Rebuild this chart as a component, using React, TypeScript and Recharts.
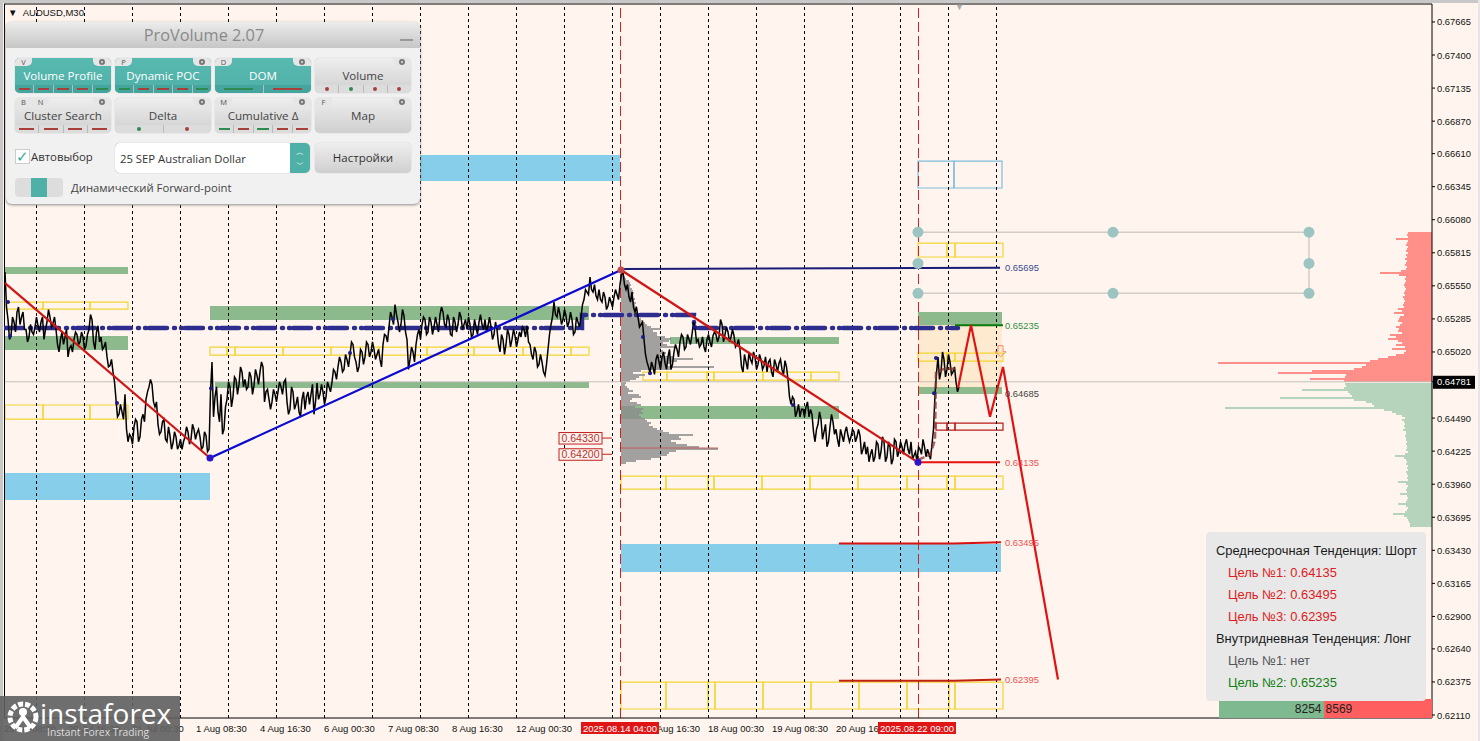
import React from 'react'
import { ComposedChart, Line, Scatter, XAxis, YAxis, ReferenceArea, ReferenceLine } from 'recharts'

// closes every 3 bars, in pips (price * 10000), one list per 48 bars
const day00 = [6566, 6528, 6515, 6526, 6534, 6524, 6534, 6520, 6514, 6518, 6522, 6523, 6526, 6512, 6526, 6530]
const day01 = [6525, 6520, 6502, 6518, 6514, 6498, 6507, 6512, 6516, 6510, 6514, 6507, 6520, 6528, 6504, 6523]
const day02 = [6514, 6506, 6498, 6491, 6486, 6464, 6452, 6454, 6468, 6430, 6434, 6442, 6446, 6434, 6452, 6464]
const day03 = [6474, 6476, 6458, 6444, 6438, 6448, 6430, 6435, 6429, 6434, 6427, 6424, 6434, 6438, 6432, 6440]
const day04 = [6437, 6434, 6426, 6435, 6424, 6494, 6466, 6454, 6468, 6440, 6464, 6474, 6466, 6480, 6476, 6486]
const day05 = [6480, 6474, 6482, 6475, 6483, 6486, 6490, 6470, 6464, 6462, 6468, 6470, 6474, 6478, 6462, 6456]
const day06 = [6470, 6460, 6454, 6464, 6456, 6470, 6468, 6452, 6477, 6468, 6470, 6466, 6474, 6478, 6486, 6490]
const day07 = [6494, 6488, 6496, 6500, 6508, 6494, 6490, 6502, 6498, 6508, 6502, 6504, 6500, 6496, 6508, 6515]
const day08 = [6522, 6530, 6540, 6526, 6524, 6531, 6512, 6496, 6502, 6508, 6520, 6524, 6528, 6518, 6526, 6522]
const day09 = [6524, 6532, 6534, 6522, 6528, 6515, 6526, 6524, 6530, 6524, 6520, 6524, 6516, 6522, 6526, 6524]
const day10 = [6528, 6523, 6522, 6516, 6520, 6502, 6512, 6508, 6516, 6512, 6515, 6512, 6514, 6520, 6523, 6508]
const day11 = [6496, 6502, 6492, 6494, 6483, 6504, 6524, 6542, 6530, 6532, 6528, 6531, 6526, 6528, 6518, 6526]
const day12 = [6530, 6544, 6550, 6562, 6550, 6547, 6552, 6542, 6546, 6539, 6542, 6546, 6548, 6556, 6566, 6552]
const day13 = [6546, 6550, 6534, 6530, 6524, 6512, 6494, 6485, 6490, 6496, 6494, 6498, 6493, 6498, 6488, 6502]
const day14 = [6504, 6510, 6514, 6506, 6512, 6516, 6522, 6512, 6508, 6506, 6512, 6510, 6515, 6516, 6514, 6524]
const day15 = [6516, 6518, 6514, 6515, 6508, 6504, 6486, 6494, 6502, 6493, 6498, 6492, 6496, 6491, 6486, 6496]
const day16 = [6482, 6492, 6493, 6488, 6495, 6480, 6460, 6464, 6454, 6450, 6456, 6458, 6450, 6452, 6430, 6444]
const day17 = [6448, 6438, 6426, 6442, 6446, 6440, 6426, 6435, 6438, 6435, 6434, 6438, 6434, 6435, 6424, 6420]
const day18 = [6414, 6424, 6418, 6428, 6422, 6430, 6418, 6426, 6416, 6430, 6422, 6426, 6428, 6424, 6430, 6419]
const day19 = [6414, 6424, 6432, 6418, 6420, 6428, 6468, 6498, 6486, 6496, 6488, 6494, 6486, 6478, 6474]

// in-between swings, read half way between the closes above
const mid00 = [6538, 6512, 6530, 6518, 6538, 6530, 6520, 6510, 6524, 6516, 6530, 6518, 6530, 6520, 6536, 6522]
const mid01 = [6530, 6508, 6512, 6508, 6520, 6505, 6502, 6518, 6508, 6518, 6504, 6516, 6532, 6510, 6518, 6510]
const mid02 = [6504, 6510, 6490, 6496, 6478, 6450, 6460, 6448, 6440, 6436, 6428, 6448, 6430, 6448, 6446, 6470]
const mid03 = [6480, 6462, 6462, 6436, 6446, 6432, 6442, 6424, 6438, 6424, 6432, 6430, 6442, 6428, 6444, 6432]
const mid04 = [6440, 6424, 6438, 6422, 6470, 6450, 6474, 6446, 6436, 6458, 6478, 6458, 6482, 6468, 6490, 6474]
const mid05 = [6472, 6486, 6468, 6488, 6476, 6494, 6462, 6472, 6456, 6472, 6462, 6478, 6468, 6480, 6452, 6474]
const mid06 = [6456, 6466, 6450, 6470, 6466, 6460, 6476, 6462, 6464, 6476, 6460, 6478, 6470, 6488, 6480, 6498]
const mid07 = [6486, 6500, 6490, 6510, 6498, 6486, 6504, 6492, 6510, 6498, 6510, 6496, 6504, 6490, 6516, 6510]
const mid08 = [6534, 6524, 6532, 6518, 6536, 6518, 6488, 6506, 6494, 6516, 6512, 6530, 6516, 6530, 6516, 6530]
const mid09 = [6518, 6538, 6524, 6532, 6516, 6530, 6518, 6534, 6520, 6528, 6530, 6514, 6528, 6516, 6532, 6520]
const mid10 = [6518, 6530, 6512, 6526, 6508, 6516, 6500, 6520, 6506, 6520, 6506, 6518, 6522, 6514, 6510, 6500]
const mid11 = [6506, 6490, 6500, 6486, 6492, 6516, 6530, 6532, 6538, 6524, 6536, 6522, 6534, 6516, 6530, 6522]
const mid12 = [6540, 6552, 6548, 6552, 6556, 6544, 6544, 6550, 6536, 6546, 6538, 6552, 6544, 6564, 6556, 6556]
const mid13 = [6542, 6538, 6538, 6522, 6526, 6500, 6490, 6494, 6484, 6500, 6488, 6502, 6488, 6504, 6492, 6508]
const mid14 = [6498, 6516, 6504, 6516, 6508, 6526, 6510, 6506, 6514, 6502, 6516, 6506, 6518, 6510, 6528, 6510]
const mid15 = [6522, 6510, 6520, 6506, 6512, 6490, 6500, 6488, 6496, 6502, 6488, 6500, 6488, 6498, 6494, 6486]
const mid16 = [6496, 6486, 6496, 6484, 6490, 6466, 6466, 6450, 6460, 6456, 6450, 6462, 6456, 6438, 6440, 6454]
const mid17 = [6432, 6444, 6430, 6452, 6436, 6432, 6440, 6430, 6442, 6430, 6440, 6430, 6440, 6420, 6430, 6426]
const mid18 = [6420, 6414, 6430, 6416, 6434, 6414, 6430, 6412, 6432, 6418, 6430, 6420, 6432, 6420, 6416, 6422]
const mid19 = [6426, 6420, 6426, 6424, 6416, 6440, 6485, 6480, 6502, 6482, 6500, 6484, 6490, 6470]

const closes = [day00, day01, day02, day03, day04, day05, day06, day07, day08, day09, day10, day11, day12, day13, day14, day15, day16, day17, day18, day19].flat()
const mids = [mid00, mid01, mid02, mid03, mid04, mid05, mid06, mid07, mid08, mid09, mid10, mid11, mid12, mid13, mid14, mid15, mid16, mid17, mid18, mid19].flat()
const priceData = closes.flatMap((p, i) => {
  const at = 1 + i * 3
  return i < mids.length ? [{ x: at, y: p / 10000 }, { x: at + 1.5, y: mids[i] / 10000 }] : [{ x: at, y: p / 10000 }]
})

const yTicks = [0.67665, 0.674, 0.67135, 0.6687, 0.6661, 0.66345, 0.6608, 0.65815, 0.6555, 0.65285, 0.6502, 0.6449, 0.64225, 0.6396, 0.63695, 0.6343, 0.63165, 0.629, 0.6264, 0.62375, 0.6211, 0.64781]
const lastPrice = 0.64781

const timeLabels = [
  [0, '28 Jul 08:30'], [64, '29 Jul 16:30'], [128, '31 Jul 00:30'], [192, '1 Aug 08:30'], [256, '4 Aug 16:30'],
  [320, '6 Aug 00:30'], [384, '7 Aug 08:30'], [448, '8 Aug 16:30'], [512, '12 Aug 00:30'],
  [640, '14 Aug 16:30'], [704, '18 Aug 00:30'], [768, '19 Aug 08:30'], [832, '20 Aug 16:30'],
] as [number, string][]
const timeFlags = [[617, '2025.08.14 04:00'], [914, '2025.08.22 09:00']] as [number, string][]
const dayBreaks = [32.5, 80.5, 128.5, 176.5, 224.5, 272.5, 320.5, 368.5, 416.5, 464.5, 512.5, 560.5, 608.5, 656.5, 704.5, 752.5, 800.5, 848.5, 896.5, 944.5, 992.5]

// [bar from, bar to, price low, price high]
const greenZones = [
  [1, 124, 0.65645, 0.65701], [1, 124, 0.65035, 0.65148], [206, 585, 0.65276, 0.65388], [211, 585, 0.64731, 0.64779],
  [666, 835, 0.65084, 0.6514], [617, 835, 0.64482, 0.64586], [914, 998, 0.65236, 0.6534], [914, 998, 0.64683, 0.64739],
]
const blueZones = [[416, 616, 0.6639, 0.66598], [1, 206, 0.63833, 0.64049], [617, 997, 0.63256, 0.6348]]
const forecastZone = [914, 998, 0.64739, 0.65236]

const yellowRows = [
  { low: 0.65364, high: 0.6542, edges: [1, 39, 86, 124] },
  { low: 0.64482, high: 0.64595, edges: [1, 39, 86, 124] },
  { low: 0.64995, high: 0.65059, edges: [206, 223, 231, 279, 327, 375, 423, 464, 470, 519, 567, 585] },
  { low: 0.64795, high: 0.64859, edges: [639, 663, 703, 710, 759, 807, 835] },
  { low: 0.63921, high: 0.64025, edges: [617, 662, 704, 710, 758, 806, 854, 903, 943, 951, 999] },
  { low: 0.62158, high: 0.62374, edges: [617, 662, 704, 711, 759, 807, 855, 903, 945, 951, 999] },
  { low: 0.65781, high: 0.65893, edges: [914, 943, 951, 999] },
  { low: 0.64947, high: 0.65011, edges: [914, 943, 951, 999] },
]
const blueBox = { low: 0.66334, high: 0.6655, edges: [914, 950, 998] }
const redBox = { low: 0.64394, high: 0.6445, edges: [932, 943, 951, 999] }

const trendDownA = [{ x: 1, y: 0.65572 }, { x: 206, y: 0.6417 }]
const trendUp = [{ x: 206, y: 0.6417 }, { x: 617, y: 0.65677 }]
const trendDownB = [{ x: 617, y: 0.65677 }, { x: 914, y: 0.64135 }]
const navyLevel = [{ x: 617, y: 0.65685 }, { x: 996, y: 0.65695 }]
const pocLine = [{ x: 1, y: 0.65212 }, { x: 578, y: 0.65212 }, { x: 578, y: 0.65316 }, { x: 690, y: 0.65316 }, { x: 690, y: 0.65212 }, { x: 954, y: 0.65212 }]
const targetGreen = [{ x: 951, y: 0.65235 }, { x: 999, y: 0.65235 }]
const targetOne = [{ x: 914, y: 0.64135 }, { x: 996, y: 0.64135 }]
const targetTwo = [{ x: 835, y: 0.63485 }, { x: 950, y: 0.63485 }, { x: 997, y: 0.63495 }]
const targetThree = [{ x: 835, y: 0.62385 }, { x: 950, y: 0.62385 }, { x: 997, y: 0.62395 }]
const forecast = [{ x: 954, y: 0.6473 }, { x: 967, y: 0.65235 }, { x: 986, y: 0.645 }, { x: 999, y: 0.649 }, { x: 1054, y: 0.62395 }]
const riseTrace = [{ x: 914, y: 0.64155 }, { x: 926, y: 0.64195 }, { x: 931, y: 0.64315 }, { x: 932, y: 0.64865 }, { x: 941, y: 0.64885 }, { x: 954, y: 0.64885 }]
const pickerFrame = [{ x: 914, y: 0.6598 }, { x: 1305, y: 0.6598 }, { x: 1305, y: 0.6549 }, { x: 914, y: 0.6549 }]
const pickerHandles = [
  { x: 914, y: 0.6598 }, { x: 1109, y: 0.6598 }, { x: 1305, y: 0.6598 }, { x: 914, y: 0.6573 },
  { x: 1305, y: 0.6573 }, { x: 914, y: 0.6549 }, { x: 1109, y: 0.6549 }, { x: 1305, y: 0.6549 },
]
const swingDots = [
  { x: 4, y: 0.65421 }, { x: 6, y: 0.65148 }, { x: 113, y: 0.64611 }, { x: 207, y: 0.6473 }, { x: 346, y: 0.65011 },
  { x: 389, y: 0.65284 }, { x: 398, y: 0.65212 }, { x: 639, y: 0.6514 }, { x: 691, y: 0.6522 }, { x: 646, y: 0.6485 },
  { x: 789, y: 0.64595 }, { x: 930, y: 0.6469 }, { x: 932, y: 0.64971 },
]
const pivotDots = [{ x: 206, y: 0.6417 }, { x: 914, y: 0.64135 }]
const levelLabels = [
  { x: 1001, y: 0.65695, text: '0.65695', color: '#3a4a90' },
  { x: 1001, y: 0.65235, text: '0.65235', color: '#2f8f3f' },
  { x: 1001, y: 0.64685, text: '0.64685', color: '#444444' },
  { x: 1001, y: 0.64135, text: '0.64135', color: '#f05050' },
  { x: 1001, y: 0.63495, text: '0.63495', color: '#f05050' },
  { x: 1001, y: 0.62395, text: '0.62395', color: '#f05050' },
]
const boxedPrices = [{ x: 598, y: 0.6433, text: '0.64330' }, { x: 598, y: 0.642, text: '0.64200' }]
const boxedTicks = [[{ x: 598, y: 0.6433 }, { x: 608, y: 0.6433 }], [{ x: 598, y: 0.642 }, { x: 608, y: 0.642 }]]
const sellArrow = [{ x: 996, y: 0.6503 }]
const profilePoc = [{ x: 617, y: 0.6425 }, { x: 714, y: 0.6425 }]

// session profile, rows of 0.00016 going down from the top
const profileTop = 0.65661
const profileVolume = [1, 3, 4, 5, 8, 9, 10, 9, 11, 12, 13, 11, 12, 14, 13, 15, 14, 16, 15, 15, 17, 18, 18, 20, 22, 24, 26, 30, 40, 32, 36, 36, 44, 50, 48, 42, 46, 55, 40, 42, 45, 40, 52, 72, 56, 50, 46, 93, 50, 20, 12, 24, 18, 15, 9, 5, 4, 6, 8, 12, 7, 18, 20, 11, 9, 16, 20, 14, 22, 20, 22, 18, 20, 24, 26, 30, 28, 32, 36, 42, 48, 72, 58, 60, 50, 55, 66, 78, 97, 55, 48, 46, 40, 30, 15, 5]

// DOM ladder at the right edge
const domAskTop = 0.65981
const domAsks = [24, 25, 24, 36, 24, 25, 26, 24, 25, 26, 24, 26, 25, 27, 25, 26, 27, 25, 26, 31, 52, 33, 26, 27, 26, 27, 28, 27, 26, 27, 28, 27, 29, 28, 27, 28, 29, 28, 34, 30, 38, 28, 32, 33, 34, 30, 32, 36, 33, 34, 30, 42, 36, 44, 34, 30, 36, 27, 40, 26, 28, 36, 44, 54, 62, 214, 66, 70, 78, 120, 154, 86, 87, 122, 88]
const domBidTop = 0.64771
const domBids = [87, 86, 88, 130, 84, 82, 80, 152, 78, 66, 60, 58, 207, 48, 40, 36, 30, 27, 30, 28, 27, 28, 27, 29, 26, 26, 27, 26, 26, 25, 26, 25, 25, 26, 24, 27, 37, 28, 26, 25, 26, 24, 25, 24, 26, 25, 24, 25, 24, 34, 26, 24, 25, 26, 25, 32, 25, 24, 25, 26, 34, 26, 24, 25, 27, 39, 28, 25, 24, 23, 22, 22]
const domBuyTotal = 8254
const domSellTotal = 8569

const trendLines = [
  { text: 'Среднесрочная Тенденция: Шорт', color: '#1a1a1a', pad: 10 },
  { text: 'Цель №1: 0.64135', color: '#e01b1b', pad: 22 },
  { text: 'Цель №2: 0.63495', color: '#e01b1b', pad: 22 },
  { text: 'Цель №3: 0.62395', color: '#e01b1b', pad: 22 },
  { text: 'Внутридневная Тенденция: Лонг', color: '#1a1a1a', pad: 10 },
  { text: 'Цель №1: нет', color: '#555555', pad: 22 },
  { text: 'Цель №2: 0.65235', color: '#108010', pad: 22 },
]

const panelRows = [
  [
    { label: 'Volume Profile', keys: ['V'], on: true, marks: 'rrrrg', dots: false },
    { label: 'Dynamic POC', keys: ['P'], on: true, marks: 'grrrg', dots: false },
    { label: 'DOM', keys: ['D'], on: true, marks: 'gr', dots: false },
    { label: 'Volume', keys: [], on: false, marks: 'rgrr', dots: true },
  ],
  [
    { label: 'Cluster Search', keys: ['B', 'N'], on: false, marks: 'rrrr', dots: false },
    { label: 'Delta', keys: [], on: false, marks: 'gr', dots: true },
    { label: 'Cumulative Δ', keys: ['M'], on: false, marks: 'grgrr', dots: false },
    { label: 'Map', keys: ['F'], on: false, marks: '', dots: false },
  ],
]

const BG = '#fff5ee'
const AXIS_FONT = '"Liberation Sans", sans-serif'
const UI_FONT = '"Open Sans", sans-serif'

function PriceTick(props: any) {
  const { x, y, payload } = props
  if (payload.value === lastPrice) {
    return (
      <g>
        <rect x={x - 4} y={y - 6} width={42} height={13} fill="#000" />
        <text x={x} y={y + 3.5} fontSize={9.4} fontFamily={AXIS_FONT} fill="#fff">0.64781</text>
      </g>
    )
  }
  return <text x={x} y={y + 3.5} fontSize={9.4} fontFamily={AXIS_FONT} fill="#111">{payload.value.toFixed(5)}</text>
}

function TimeTick(props: any) {
  const { x, y, payload } = props
  const flag = timeFlags.find((f) => f[0] === payload.value)
  if (flag) {
    return (
      <g>
        <rect x={x - 40} y={y - 1} width={78} height={12} fill="#e01515" />
        <text x={x - 1} y={y + 8.5} fontSize={9.5} textAnchor="middle" fontFamily={AXIS_FONT} fill="#fff">{flag[1]}</text>
      </g>
    )
  }
  const label = timeLabels.find((l) => l[0] === payload.value)
  return <text x={x} y={y + 8.5} fontSize={9.5} fontFamily={AXIS_FONT} fill="#111">{label ? label[1] : ''}</text>
}

function BoxRow({ row, color }: any) {
  return row.edges.slice(1).map((edge: number, i: number) => (
    <ReferenceArea key={edge} x1={row.edges[i]} x2={edge} y1={row.low} y2={row.high} fill="none" stroke={color} strokeWidth={1.2} fillOpacity={0} />
  ))
}

function PanelButton({ b }: any) {
  const fg = b.on ? '#fff' : '#444'
  const body = b.on ? 'linear-gradient(#58b9b1,#4fb0a8)' : 'linear-gradient(#eeeeee,#cfcfcf)'
  const strip = b.on ? '#43a59d' : '#dcdcdc'
  return (
    <div style={{ position: 'relative', width: 96, height: 35, borderRadius: 5, background: body, overflow: 'hidden', boxShadow: '0 0 1px #999' }}>
      <div style={{ position: 'absolute', left: 0, top: 0, display: 'flex' }}>
        {b.keys.map((k: string) => (
          <div key={k} style={{ width: 17, height: 8, lineHeight: '8px', background: '#e6e6e6', borderRadius: '0 0 5px 0', fontSize: 7.5, color: '#555', textAlign: 'center' }}>{k}</div>
        ))}
      </div>
      <div style={{ position: 'absolute', right: 0, top: 0, width: 18, height: 8, background: '#e6e6e6', borderRadius: '0 0 0 5px' }}>
        <div style={{ width: 6, height: 6, margin: '1px auto', borderRadius: 3, border: '2px solid #777', boxSizing: 'border-box' }} />
      </div>
      <div style={{ position: 'absolute', left: 0, right: 0, top: 9, textAlign: 'center', fontSize: 11.6, lineHeight: '17px', color: fg, fontFamily: UI_FONT }}>{b.label}</div>
      {b.marks && (
        <div style={{ position: 'absolute', left: 0, right: 0, bottom: 0, height: 8, background: strip, display: 'flex' }}>
          {b.marks.split('').map((m: string, i: number) => {
            const c = m === 'g' ? '#2f8a4f' : '#a8403a'
            return (
              <div key={i} style={{ flex: 1, display: 'flex', justifyContent: 'center', alignItems: 'center', borderLeft: i ? '1px solid #bbb' : 'none' }}>
                <div style={b.dots ? { width: 4, height: 4, borderRadius: 2, background: c } : { width: '62%', height: 1.5, background: c }} />
              </div>
            )
          })}
        </div>
      )}
    </div>
  )
}

function ProVolumePanel() {
  return (
    <div style={{ position: 'absolute', left: 6, top: 22, width: 414, height: 182, borderRadius: 6, background: '#f1f1f1', boxShadow: '0 1px 3px #888', fontFamily: UI_FONT, overflow: 'hidden' }}>
      <div style={{ height: 26, background: 'linear-gradient(#ececec,#c6c6c6)', textAlign: 'center', fontSize: 16.3, lineHeight: '27px', color: '#8a8a8a', paddingRight: 18, boxSizing: 'border-box' }}>ProVolume 2.07</div>
      <div style={{ position: 'absolute', right: 7, top: 17, width: 13, height: 2, background: '#999' }} />
      {panelRows.map((row, r) => (
        <div key={r} style={{ position: 'absolute', left: 9, top: 36 + r * 40, display: 'flex', gap: 4 }}>
          {row.map((b) => <PanelButton key={b.label} b={b} />)}
        </div>
      ))}
      <div style={{ position: 'absolute', left: 9, top: 127, width: 13, height: 13, background: '#fff', border: '1px solid #ccc', color: '#3aa79e', fontSize: 15, lineHeight: '12px' }}>✓</div>
      <div style={{ position: 'absolute', left: 25, top: 126, fontSize: 11.4, lineHeight: '17px', color: '#333' }}>Автовыбор</div>
      <div style={{ position: 'absolute', left: 109, top: 121, width: 195, height: 30, borderRadius: 5, background: '#fff', boxShadow: '0 0 1px #999', overflow: 'hidden' }}>
        <div style={{ position: 'absolute', left: 5, top: 7, fontSize: 11.3, lineHeight: '18px', color: '#333' }}>25 SEP Australian Dollar</div>
        <div style={{ position: 'absolute', right: 0, top: 0, width: 20, height: 30, background: '#4fb0a8', color: '#fff', fontSize: 8, lineHeight: '12px', textAlign: 'center', paddingTop: 3 }}>︿<br />﹀</div>
      </div>
      <div style={{ position: 'absolute', left: 309, top: 121, width: 96, height: 30, borderRadius: 5, background: 'linear-gradient(#eeeeee,#cfcfcf)', boxShadow: '0 0 1px #999', textAlign: 'center', fontSize: 11.5, lineHeight: '30px', color: '#333' }}>Настройки</div>
      <div style={{ position: 'absolute', left: 9, top: 156, width: 48, height: 19, borderRadius: 4, background: '#dddddd', overflow: 'hidden' }}>
        <div style={{ position: 'absolute', left: 16, top: 0, width: 16, height: 19, background: '#4fb0a8' }} />
      </div>
      <div style={{ position: 'absolute', left: 65, top: 157, fontSize: 11.3, lineHeight: '17px', color: '#444' }}>Динамический Forward-point</div>
    </div>
  )
}

function TrendPanel() {
  return (
    <div style={{ position: 'absolute', left: 1206, top: 532, width: 220, height: 169, borderRadius: 4, background: '#e8e8e8', paddingTop: 8, boxSizing: 'border-box' }}>
      {trendLines.map((l, i) => (
        <div key={i} style={{ paddingLeft: l.pad, height: 22, lineHeight: '22px', fontSize: 12.9, fontFamily: AXIS_FONT, color: l.color, whiteSpace: 'nowrap' }}>{l.text}</div>
      ))}
    </div>
  )
}

function Logo() {
  return (
    <div style={{ position: 'absolute', left: 0, top: 696, width: 180, height: 45, background: 'rgba(95,95,95,0.9)', color: '#fff', overflow: 'hidden' }}>
      <svg width={38} height={38} style={{ position: 'absolute', left: 4, top: 2 }}>
        <circle cx={19} cy={19} r={13} fill="none" stroke="#fff" strokeWidth={5} strokeDasharray="5 2" />
        <circle cx={19} cy={14} r={4} fill="#fff" />
        <path d="M11 30 L19 19 L27 30" fill="none" stroke="#fff" strokeWidth={4} />
      </svg>
      <div style={{ position: 'absolute', left: 40, top: 1, fontFamily: UI_FONT, fontSize: 28, lineHeight: '32px' }}>instaforex</div>
      <div style={{ position: 'absolute', left: 47, top: 29, fontFamily: UI_FONT, fontSize: 10.3, lineHeight: '14px', color: '#ddd' }}>Instant Forex Trading</div>
    </div>
  )
}

export default function App() {
  const xTicks = [...timeLabels.map((l) => l[0]), ...timeFlags.map((f) => f[0])]
  return (
    <div style={{ position: 'absolute', left: 0, top: 0, width: 1480, height: 741, background: BG, overflow: 'hidden' }}>
      <ComposedChart width={1480} height={741} margin={{ top: 4, right: 0, bottom: 0, left: 4 }}>
        <XAxis dataKey="x" type="number" domain={[0, 1428]} ticks={xTicks} interval={0} height={23} tick={<TimeTick />} tickLine={false} tickSize={3} stroke="#000" allowDataOverflow />
        <YAxis dataKey="y" type="number" orientation="right" domain={[0.62086, 0.67809]} ticks={yTicks} interval={0} width={48} tick={<PriceTick />} tickSize={3} tickMargin={2} stroke="#000" allowDataOverflow />

        {greenZones.map((z, i) => <ReferenceArea key={'g' + i} x1={z[0]} x2={z[1]} y1={z[2]} y2={z[3]} fill="#8dba8d" fillOpacity={1} stroke="none" />)}
        {blueZones.map((z, i) => <ReferenceArea key={'b' + i} x1={z[0]} x2={z[1]} y1={z[2]} y2={z[3]} fill="#87ceeb" fillOpacity={1} stroke="none" />)}
        <ReferenceArea x1={forecastZone[0]} x2={forecastZone[1]} y1={forecastZone[2]} y2={forecastZone[3]} fill="#fdeacf" fillOpacity={1} stroke="none" />

        {dayBreaks.map((x) => <ReferenceLine key={x} x={x} stroke="#000" strokeDasharray="3 3" />)}
        <ReferenceLine y={lastPrice} stroke="#c4bfba" />
        <ReferenceLine y={0.67809} stroke="#000" />
        <ReferenceLine x={0.5} stroke="#000" />

        {yellowRows.map((row, i) => <BoxRow key={i} row={row} color="#f3d532" />)}
        <BoxRow row={blueBox} color="#7fbcdc" />
        <BoxRow row={redBox} color="#b81c1c" />

        {profileVolume.map((v, i) => (
          <ReferenceArea key={'p' + i} x1={617} x2={617 + v} y1={profileTop - (i + 1) * 0.00016} y2={profileTop - i * 0.00016} fill="#8c8c8c" fillOpacity={0.8} stroke="none" shapeRendering="crispEdges" />
        ))}
        {domAsks.map((v, i) => (
          <ReferenceArea key={'a' + i} x1={1428 - v} x2={1428} y1={domAskTop - (i + 1) * 0.00016} y2={domAskTop - i * 0.00016} fill="#ff8f88" fillOpacity={1} stroke="none" shapeRendering="crispEdges" />
        ))}
        {domBids.map((v, i) => (
          <ReferenceArea key={'d' + i} x1={1428 - v} x2={1428} y1={domBidTop - (i + 1) * 0.00016} y2={domBidTop - i * 0.00016} fill="#b6d4bc" fillOpacity={1} stroke="none" shapeRendering="crispEdges" />
        ))}

        <ReferenceLine x={616.5} stroke="#d42020" strokeDasharray="10 4" />
        <ReferenceLine x={914.5} stroke="#d42020" strokeDasharray="10 4" />

        <Line data={pickerFrame} dataKey="y" stroke="#d2cdc8" strokeWidth={1.5} dot={false} isAnimationActive={false} />
        <Line data={pocLine} dataKey="y" stroke="#2d2d8f" strokeWidth={4.5} strokeLinecap="round" strokeDasharray="18 7 1 6 1 3" dot={false} isAnimationActive={false} />
        <Line data={priceData} dataKey="y" stroke="#000" strokeWidth={1.5} dot={false} isAnimationActive={false} />
        <Line data={profilePoc} dataKey="y" stroke="#c06060" strokeWidth={1} dot={false} isAnimationActive={false} />
        <Line data={navyLevel} dataKey="y" stroke="#1b1b78" strokeWidth={2} dot={false} isAnimationActive={false} />
        <Line data={trendUp} dataKey="y" stroke="#0a0ad0" strokeWidth={2.2} dot={false} isAnimationActive={false} />
        <Line data={trendDownA} dataKey="y" stroke="#d01515" strokeWidth={2.2} dot={false} isAnimationActive={false} />
        <Line data={trendDownB} dataKey="y" stroke="#d01515" strokeWidth={2.2} dot={false} isAnimationActive={false} />
        <Line data={riseTrace} dataKey="y" stroke="#8a3030" strokeOpacity={0.75} strokeWidth={2.5} strokeDasharray="7 3" dot={false} isAnimationActive={false} />
        <Line data={targetGreen} dataKey="y" stroke="#0a7a0a" strokeWidth={2} dot={false} isAnimationActive={false} />
        <Line data={targetOne} dataKey="y" stroke="#e81010" strokeWidth={2} dot={false} isAnimationActive={false} />
        <Line data={targetTwo} dataKey="y" stroke="#d81010" strokeWidth={2} dot={false} isAnimationActive={false} />
        <Line data={targetThree} dataKey="y" stroke="#c02010" strokeWidth={2} dot={false} isAnimationActive={false} />
        <Line data={forecast} dataKey="y" stroke="#e01212" strokeWidth={2.2} dot={false} isAnimationActive={false} />
        {boxedTicks.map((t, i) => <Line key={i} data={t} dataKey="y" stroke="#c02020" strokeWidth={1} dot={false} isAnimationActive={false} />)}

        <Scatter data={swingDots} dataKey="y" isAnimationActive={false} shape={(p: any) => <circle cx={p.cx} cy={p.cy} r={2} fill="#1b1b88" />} />
        <Scatter data={pivotDots} dataKey="y" isAnimationActive={false} shape={(p: any) => <circle cx={p.cx} cy={p.cy} r={3.5} fill="#2a18c8" />} />
        <Scatter data={[trendUp[1]]} dataKey="y" isAnimationActive={false} shape={(p: any) => <circle cx={p.cx} cy={p.cy} r={3.5} fill="#c04848" />} />
        <Scatter data={pickerHandles} dataKey="y" isAnimationActive={false} shape={(p: any) => <circle cx={p.cx} cy={p.cy} r={5.5} fill="#9cc5c1" />} />
        <Scatter data={sellArrow} dataKey="y" isAnimationActive={false} shape={(p: any) => (
          <path d={`M${p.cx - 2} ${p.cy - 5} h5 v6 h3 l-5.5 5 l-5.5 -5 h3 z`} fill="none" stroke="#f08a60" strokeWidth={1} />
        )} />
        <Scatter data={levelLabels} dataKey="y" isAnimationActive={false} shape={(p: any) => (
          <text x={p.cx} y={p.cy + 3.5} fontSize={9.4} fontFamily={AXIS_FONT} fill={p.payload.color}>{p.payload.text}</text>
        )} />
        <Scatter data={boxedPrices} dataKey="y" isAnimationActive={false} shape={(p: any) => (
          <g>
            <rect x={p.cx - 43} y={p.cy - 5.5} width={43} height={11.5} fill={BG} stroke="#c02020" />
            <text x={p.cx - 21.5} y={p.cy + 4} textAnchor="middle" fontSize={10.5} fontFamily={AXIS_FONT} fill="#b83030">{p.payload.text}</text>
          </g>
        )} />
      </ComposedChart>

      <div style={{ position: 'absolute', left: 0, top: 0, width: 1480, height: 3, background: '#c8c8c8' }} />
      <div style={{ position: 'absolute', left: 0, top: 0, width: 3, height: 741, background: '#c8c8c8' }} />
      <div style={{ position: 'absolute', left: 1478, top: 0, width: 2, height: 741, background: '#e6e6e6' }} />
      <div style={{ position: 'absolute', left: 8, top: 6, fontSize: 9.5, lineHeight: '13px', fontFamily: AXIS_FONT, color: '#111', whiteSpace: 'nowrap' }}>▼&nbsp;&nbsp;AUDUSD,M30</div>
      <div style={{ position: 'absolute', left: 955, top: 3, fontSize: 9, lineHeight: '9px', color: '#aaa' }}>▼</div>

      <div style={{ position: 'absolute', left: 1219, top: 699, width: 213, height: 19, display: 'flex', fontSize: 12, lineHeight: '21px', fontFamily: AXIS_FONT, color: '#222' }}>
        <div style={{ flex: domBuyTotal, background: '#7fb98f', textAlign: 'right', paddingRight: 2 }}>{domBuyTotal}</div>
        <div style={{ flex: domSellTotal, background: '#ff5f5f', paddingLeft: 2 }}>{domSellTotal}</div>
      </div>
      <TrendPanel />
      <ProVolumePanel />
      <Logo />
    </div>
  )
}
